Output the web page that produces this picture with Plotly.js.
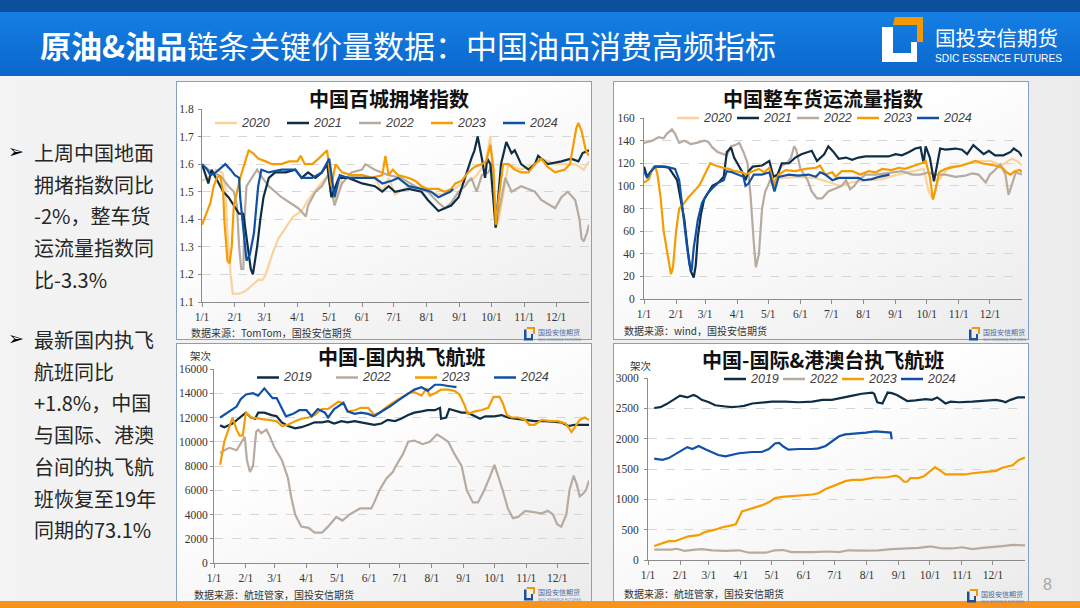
<!DOCTYPE html>
<html><head><meta charset="utf-8">
<script src="https://cdn.plot.ly/plotly-3.0.1.min.js"></script>
<style>
html,body{margin:0;padding:0;}
#slide{position:relative;width:1080px;height:608px;overflow:hidden;background:linear-gradient(90deg,#f3f3f3 0%,#ececec 100%);font-family:"Noto Sans CJK SC","Noto Sans",sans-serif;}
.hdrtop{position:absolute;left:0;top:0;width:1080px;height:12px;background:#0b4f9d;}
.hdr{position:absolute;left:0;top:12px;width:1080px;height:64px;background:linear-gradient(180deg,#1580e4 0%,#0a66cc 100%);}
.htitle{position:absolute;left:40px;top:24px;color:#fff;font-size:31px;line-height:42px;white-space:nowrap;font-weight:400;}
.htitle b{font-weight:700;}
.biglogo{position:absolute;left:878px;top:12px;}
.bul{position:absolute;left:34px;font-size:20px;line-height:31.7px;color:#262626;white-space:nowrap;}
.arrow{position:absolute;left:8px;font-size:19px;line-height:20px;color:#000;font-family:"DejaVu Sans";font-weight:bold;}
.box{position:absolute;box-sizing:border-box;border:1.5px solid #86a0c4;background:linear-gradient(155deg,#ffffff 35%,#ebebeb 100%);}
.plot{position:absolute;}
.slogo{position:absolute;width:64px;height:17px;}
.pnum{position:absolute;left:1043px;top:576px;font-size:16px;color:#a8a8a8;font-family:"Liberation Sans";}
.bottom{position:absolute;left:0;top:601px;width:1080px;height:7px;background:#f7941d;}
</style></head>
<body>
<div id="slide">
  <div class="hdrtop"></div>
  <div class="hdr"></div>
  <div class="htitle"><b>原油&amp;油品</b>链条关键价量数据：中国油品消费高频指标</div>
  <svg class="biglogo" width="200" height="60" viewBox="0 0 200 60">
    <path d="M17 5 L45 5 L45 30 L39 30 L39 13 L15 13 Z" fill="#f39800"/>
    <path d="M4 15 L15 15 L15 41 L33 41 L33 30 L39 30 L39 50 L4 50 Z" fill="#ffffff"/>
    <text x="57" y="34" font-family="Noto Sans CJK SC" font-size="20.5" fill="#fff">国投安信期货</text>
    <text x="57" y="50" font-family="Liberation Sans Narrow, Liberation Sans" font-size="11.5" fill="#fff" textLength="127" lengthAdjust="spacingAndGlyphs">SDIC ESSENCE FUTURES</text>
  </svg>

  <div class="arrow" style="top:141px;">➢</div>
  <div class="bul" style="top:137px;">上周中国地面<br>拥堵指数同比<br>-2%，整车货<br>运流量指数同<br>比-3.3%</div>
  <div class="arrow" style="top:328px;">➢</div>
  <div class="bul" style="top:324px;">最新国内执飞<br>航班同比<br>+1.8%，中国<br>与国际、港澳<br>台间的执飞航<br>班恢复至19年<br>同期的73.1%</div>

  <div class="box" style="left:176px;top:81px;width:416px;height:259px;"></div>
  <div class="box" style="left:613px;top:81px;width:416px;height:259px;"></div>
  <div class="box" style="left:176px;top:343px;width:416px;height:259px;"></div>
  <div class="box" style="left:613px;top:343px;width:416px;height:259px;"></div>

  <div id="c1" class="plot" style="left:176px;top:81px;width:416px;height:259px;"></div>
  <div id="c2" class="plot" style="left:613px;top:81px;width:416px;height:259px;"></div>
  <div id="c3" class="plot" style="left:176px;top:343px;width:416px;height:259px;"></div>
  <div id="c4" class="plot" style="left:613px;top:343px;width:416px;height:259px;"></div>

  <div class="bottom"></div>
  <div class="pnum">8</div>
</div>

<script>
// ---------- shared axis labels ----------
const monthTicks = [0,31,59,90,120,151,181,212,243,273,304,334];
const monthLabels = ['1/1','2/1','3/1','4/1','5/1','6/1','7/1','8/1','9/1','10/1','11/1','12/1'];

// ---------- Chart 1: 中国百城拥堵指数 (day of year) ----------
const cong2020_x = [0,6,13,19,22,24,27,29,35,41,47,53,57,60,66,72,79,86,94,100,110,119,122,125,132,151,163,170,176,182,195,213,226,235,245,257,267,272,277,280,289,301,314,320,333,342,352,360,365];
const cong2020_y = [1.54,1.55,1.58,1.57,1.52,1.35,1.2,1.13,1.13,1.14,1.16,1.18,1.18,1.2,1.27,1.33,1.37,1.41,1.43,1.47,1.52,1.56,1.5,1.46,1.55,1.56,1.55,1.5,1.55,1.49,1.52,1.5,1.49,1.5,1.53,1.55,1.6,1.7,1.37,1.4,1.6,1.58,1.6,1.62,1.6,1.6,1.6,1.58,1.61];
const cong2021_x = [0,6,9,13,16,20,25,30,35,39,42,46,48,52,55,58,63,69,79,88,94,100,107,113,118,122,129,138,151,163,170,176,182,195,207,213,218,223,229,235,242,248,251,254,257,260,264,267,269,272,277,282,287,292,295,301,308,314,317,326,339,348,355,359,365];
const cong2021_y = [1.6,1.53,1.58,1.55,1.53,1.5,1.48,1.45,1.42,1.42,1.33,1.22,1.2,1.3,1.4,1.48,1.55,1.57,1.57,1.58,1.55,1.57,1.55,1.57,1.6,1.48,1.55,1.55,1.53,1.52,1.5,1.52,1.5,1.51,1.5,1.47,1.45,1.43,1.44,1.45,1.48,1.55,1.59,1.62,1.65,1.7,1.62,1.55,1.62,1.6,1.37,1.6,1.68,1.64,1.65,1.6,1.58,1.6,1.63,1.6,1.61,1.62,1.61,1.64,1.65];
const cong2022_x = [0,9,16,19,25,30,33,35,37,39,40,42,47,52,57,63,69,75,83,91,98,100,107,113,119,125,132,141,151,154,163,176,188,201,213,223,229,235,242,248,254,259,264,270,274,277,286,292,301,308,314,320,333,339,345,352,356,358,360,363,365];
const cong2022_y = [1.6,1.57,1.56,1.55,1.52,1.5,1.45,1.3,1.22,1.22,1.4,1.52,1.55,1.58,1.55,1.52,1.5,1.48,1.46,1.44,1.41,1.45,1.5,1.52,1.56,1.45,1.53,1.57,1.58,1.6,1.58,1.56,1.55,1.52,1.5,1.46,1.44,1.46,1.5,1.52,1.55,1.5,1.56,1.57,1.6,1.37,1.55,1.5,1.52,1.51,1.5,1.47,1.44,1.48,1.5,1.47,1.4,1.33,1.32,1.35,1.38];
const cong2023_x = [0,5,8,11,14,17,20,21,24,26,28,30,33,36,40,44,48,53,60,66,75,82,90,93,97,104,110,118,122,126,132,141,151,160,170,173,176,180,185,195,201,207,213,223,229,235,239,245,251,257,264,268,272,275,277,279,284,289,295,301,308,314,320,326,333,342,347,350,353,355,358,362,365];
const cong2023_y = [1.38,1.43,1.46,1.52,1.55,1.56,1.5,1.4,1.25,1.24,1.3,1.45,1.5,1.55,1.6,1.65,1.64,1.62,1.61,1.6,1.6,1.61,1.61,1.63,1.6,1.6,1.62,1.65,1.52,1.6,1.57,1.56,1.56,1.55,1.56,1.63,1.56,1.58,1.56,1.55,1.54,1.52,1.51,1.51,1.5,1.51,1.53,1.54,1.57,1.59,1.6,1.61,1.67,1.58,1.38,1.45,1.6,1.6,1.58,1.57,1.57,1.6,1.62,1.59,1.57,1.58,1.6,1.67,1.73,1.75,1.72,1.65,1.63];
const cong2024_x = [0,5,8,13,22,27,31,35,36,39,42,45,49,53,56,63,75,88,94,104,113,120,125,130,138,151,163,170,179,185,195,207,216,223,229,234,237];
const cong2024_y = [1.6,1.58,1.56,1.57,1.6,1.58,1.56,1.55,1.48,1.35,1.25,1.27,1.35,1.52,1.58,1.57,1.58,1.58,1.55,1.55,1.57,1.62,1.48,1.56,1.55,1.55,1.55,1.53,1.54,1.55,1.52,1.51,1.5,1.48,1.49,1.5,1.51];

// ---------- Chart 2: 中国整车货运流量指数 ----------
const truck2020_x = [120,135,150,165,180,188,200,215,230,245,260,270,275,279,284,295,305,320,335,345,355,360,365];
const truck2020_y = [105,107,108,107,103,100,103,105,106,110,113,115,95,88,105,117,118,122,122,118,124,122,118];
const truck2021_x = [0,3,6,10,18,24,27,32,35,39,42,45,48,50,52,55,58,63,66,72,77,80,84,87,91,95,98,101,105,114,121,125,129,133,140,146,152,159,162,167,174,178,183,188,195,201,207,214,227,236,243,249,256,262,267,270,272,276,280,283,286,291,301,307,312,318,323,328,333,339,347,354,357,362,365];
const truck2021_y = [117,108,112,117,117,116,112,105,90,70,45,25,19,30,55,75,88,95,100,103,108,130,134,125,118,112,105,113,117,118,122,108,110,120,120,125,128,130,131,122,128,135,130,124,125,123,125,126,126,126,128,127,130,133,134,120,135,125,104,120,133,132,133,132,128,136,132,128,131,127,127,130,133,130,126];
const truck2022_x = [0,8,14,19,22,27,30,34,39,45,51,58,62,66,71,76,80,84,88,92,96,100,103,106,108,111,114,117,122,125,129,133,138,142,145,147,151,158,162,167,172,178,185,191,195,199,203,207,214,224,233,243,249,259,267,275,280,291,301,310,317,323,330,334,339,344,349,352,355,359,365];
const truck2022_y = [138,140,143,142,146,150,146,138,140,137,138,140,139,134,130,128,127,135,136,138,130,120,90,50,28,40,80,95,105,100,110,118,120,125,135,132,115,105,95,89,89,95,98,100,105,97,100,105,110,110,111,112,113,110,110,112,110,110,108,109,111,110,103,110,114,119,110,92,100,112,110];
const truck2023_x = [0,5,8,11,13,16,19,24,26,28,31,34,39,43,48,53,56,61,64,69,76,82,88,95,98,105,111,116,121,126,130,137,146,156,166,170,175,182,185,191,201,209,217,224,230,239,246,252,259,268,272,276,279,281,285,291,301,307,314,320,326,333,339,346,350,354,358,363,365];
const truck2023_y = [103,106,115,117,110,90,60,30,22,28,60,80,85,90,95,100,105,115,120,118,116,115,113,112,110,113,115,112,116,100,110,114,113,115,116,118,110,112,108,113,113,110,113,112,115,114,116,115,117,120,122,108,88,95,112,115,117,118,120,122,120,119,118,116,112,110,113,114,112];
const truck2024_x = [0,3,6,11,21,26,30,34,37,41,44,46,48,52,56,61,66,72,77,80,85,91,96,98,101,106,114,121,126,130,140,149,159,166,170,175,182,188,201,207,212,220,227,232,237];
const truck2024_y = [113,107,112,117,117,116,115,105,80,50,30,25,45,70,85,93,98,103,105,113,112,110,108,100,102,110,110,112,95,108,110,109,110,108,112,110,105,107,107,107,105,106,108,109,110];

// ---------- Chart 3: 中国-国内执飞航班 (架次) ----------
const dom2019_x = [6,10,18,25,31,36,40,43,49,56,61,66,72,79,85,92,98,105,111,117,124,130,137,143,150,156,163,169,176,182,189,195,202,208,215,220,221,226,229,234,241,247,254,259,264,273,280,286,293,303,312,322,332,338,345,351,365];
const dom2019_y = [11350,11200,11500,12000,12400,12000,11900,12400,12400,12200,12100,11600,11300,11100,11200,11400,11600,11600,11700,11500,11700,11600,11700,11600,11500,11400,11500,11800,11700,11900,12200,12400,12500,12600,12600,12800,11900,12000,12700,12600,12400,12400,12100,11900,12100,12100,12200,12000,11900,11800,11700,11700,11600,11600,11300,11400,11400];
const dom2022_x = [6,10,15,22,27,30,32,35,38,41,43,46,51,54,59,66,72,75,79,85,92,98,105,111,119,125,132,142,153,156,161,168,174,177,184,189,195,203,210,217,221,228,234,241,246,252,257,263,268,273,281,286,291,296,303,311,319,325,330,334,338,343,346,350,353,356,359,362,365];
const dom2022_y = [9060,9300,9500,9300,10000,10400,8500,7500,8000,10800,11000,10700,11000,10500,9500,8500,7000,5500,4000,3000,2900,2500,2500,3000,3800,3500,4000,4500,4500,5000,6000,7000,7500,8000,9000,10000,10100,9800,10000,10600,10400,10000,9000,8000,6000,5000,5000,6000,7000,8100,6000,4500,3700,3800,4300,4200,4100,4300,4000,3200,3000,4000,6000,7200,6500,5500,5700,6000,6800];
const dom2023_x = [6,10,14,18,22,25,28,31,36,46,56,61,66,72,79,85,92,98,105,111,121,126,130,137,143,150,156,163,170,179,189,195,202,207,210,215,221,228,234,239,244,247,254,260,267,272,278,281,285,290,296,303,307,312,319,328,335,342,345,348,351,356,361,365];
const dom2023_y = [8100,10000,11000,12000,11000,10500,10500,12400,12000,11900,11800,11700,11300,11400,11700,11900,12000,12200,12700,12700,13300,13200,12500,12600,12800,12800,12200,12500,13000,13500,14000,14100,13800,14400,13800,14000,14300,14300,14200,13900,13000,12300,12500,12600,12800,13700,13700,13200,12200,12000,12000,11800,11400,11400,11800,11700,11700,11500,11200,10800,11200,11800,12000,11800];
const dom2024_x = [6,15,22,26,31,38,43,49,53,57,61,66,70,77,83,90,95,101,108,111,117,126,130,137,143,150,156,165,171,179,189,195,202,208,215,221,228,236];
const dom2024_y = [12000,12500,12900,13500,13900,14000,13800,14400,14000,13600,13600,12700,12100,12300,12600,12600,12100,12700,12400,12000,12700,13200,12500,12300,12400,12300,12100,12600,12900,13400,14000,14300,14500,14200,14700,14700,14600,14500];

// ---------- Chart 4: 中国-国际&港澳台执飞航班 (架次) ----------
const intl2019_x = [6,12,18,25,31,38,44,47,52,59,65,75,81,88,93,101,110,120,133,146,159,169,178,188,198,207,217,219,222,227,232,236,241,246,251,259,269,275,280,285,288,293,301,314,327,337,343,346,351,358,365];
const intl2019_y = [2505,2520,2570,2650,2710,2680,2720,2700,2640,2600,2550,2530,2520,2530,2540,2580,2600,2610,2610,2600,2610,2640,2640,2680,2710,2740,2760,2740,2600,2580,2760,2750,2720,2670,2620,2630,2650,2640,2680,2620,2580,2610,2600,2610,2630,2640,2620,2600,2640,2680,2680];
const intl2022_x = [6,23,28,35,46,52,62,75,88,98,114,123,131,139,159,175,185,194,210,223,236,249,262,272,275,285,294,304,314,324,333,343,353,365];
const intl2022_y = [170,170,185,150,170,180,160,150,160,120,120,160,165,130,130,140,130,160,155,160,180,190,200,220,220,190,190,210,180,200,210,230,250,240];
const intl2023_x = [6,14,20,26,33,39,49,55,65,72,81,85,91,101,110,117,123,130,139,149,159,165,172,181,191,198,207,220,230,240,243,248,251,254,262,267,272,278,285,288,301,307,314,327,337,343,353,359,365];
const intl2023_y = [230,280,310,310,350,390,410,460,500,540,570,590,800,850,900,950,1020,1040,1050,1070,1080,1100,1170,1230,1300,1320,1320,1360,1360,1390,1370,1290,1290,1350,1350,1380,1450,1530,1450,1410,1410,1410,1430,1450,1470,1520,1560,1650,1690];
const intl2024_x = [6,14,20,27,33,38,43,49,56,62,68,75,81,88,101,110,117,123,127,131,136,146,159,165,172,178,185,191,201,211,220,230,235,236];
const intl2024_y = [1670,1650,1680,1750,1820,1860,1830,1880,1820,1780,1730,1710,1730,1760,1780,1780,1830,1920,1930,1870,1820,1830,1830,1840,1880,1950,2040,2070,2080,2100,2120,2110,2100,1990];

// ---------- styling ----------
const COL = {y2019:'#0e2e46', y2020:'#fad39a', y2021:'#0e2e46', y2022:'#b7aba0', y2023:'#f59c00', y2024:'#1050a6'};
const W = 416, H = 259;
const SERIF = '"Liberation Serif", serif';
const CJK = '"Noto Sans CJK SC", sans-serif';

function build(id, cfg){
  const m = cfg.margin;
  const pw = W - m.l - m.r, ph = H - m.t - m.b;
  const px = v => (v - m.l) / pw;
  const py = v => 1 - (v - m.t) / ph;
  const traces = cfg.series.map(s => ({
    type:'scatter', mode:'lines', x:s.x, y:s.y, name:s.name,
    line:{color:s.color, width:2.2}, hoverinfo:'skip', showlegend:false
  }));
  const shapes = [], ann = [];
  cfg.legendOrder.forEach((s, i) => {
    const x0 = cfg.leg.x + i*cfg.leg.step;
    shapes.push({type:'line', xref:'paper', yref:'paper', x0:px(x0), x1:px(x0+22),
      y0:py(cfg.leg.y), y1:py(cfg.leg.y), line:{color:s.color, width:2.5}});
    ann.push({xref:'paper', yref:'paper', x:px(x0+25), y:py(cfg.leg.y), xanchor:'left', yanchor:'middle', borderpad:0,
      text:'<i>'+s.name+'</i>', showarrow:false, font:{family:'"Liberation Sans", Arial', size:12.5, color:'#404040'}});
  });
  ann.push({xref:'paper', yref:'paper', x:px(cfg.title.x), y:py(cfg.title.y), xanchor:'center', yanchor:'middle', borderpad:0,
    text:cfg.title.text, showarrow:false, font:{family:CJK, size:20, color:'#111', weight:700}});
  ann.push({xref:'paper', yref:'paper', x:px(cfg.foot.x), y:py(cfg.foot.y), xanchor:'left', yanchor:'middle', borderpad:0,
    text:cfg.foot.text, showarrow:false, font:{family:CJK, size:10, color:'#333'}});
  if (cfg.unit) ann.push({xref:'paper', yref:'paper', x:px(cfg.unit.x), y:py(cfg.unit.y), xanchor:'left', yanchor:'middle', borderpad:0,
    text:'架次', showarrow:false, font:{family:CJK, size:10.5, color:'#333'}});
  const layout = {
    width:W, height:H, margin:{l:m.l, r:m.r, t:m.t, b:m.b, pad:0},
    paper_bgcolor:'rgba(0,0,0,0)', plot_bgcolor:'rgba(0,0,0,0)', showlegend:false,
    xaxis:{range:[0,365], tickmode:'array', tickvals:monthTicks, ticktext:monthLabels,
      showgrid:false, zeroline:false, showline:true, linecolor:'#8c8c8c', linewidth:1,
      ticks:'outside', ticklen:4, tickcolor:'#8c8c8c', tickfont:{family:SERIF, size:11.5, color:'#333'}},
    yaxis:{range:cfg.yrange, dtick:cfg.dtick, tick0:cfg.yrange[0], tickformat:cfg.tickformat,
      showgrid:true, gridcolor:'#d6d6d6', griddash:'dash', gridwidth:1, zeroline:false,
      showline:true, linecolor:'#8c8c8c', linewidth:1, ticks:'outside', ticklen:3, tickcolor:'#8c8c8c',
      tickfont:{family:SERIF, size:11.5, color:'#333'}, ticklabelstandoff:cfg.standoff},
    shapes:shapes, annotations:ann
  };
  Plotly.newPlot(id, traces, layout, {staticPlot:true, displayModeBar:false});
}

// Chart 1
const s1 = {
  y2020:{name:'2020', x:cong2020_x, y:cong2020_y, color:COL.y2020},
  y2021:{name:'2021', x:cong2021_x, y:cong2021_y, color:COL.y2021},
  y2022:{name:'2022', x:cong2022_x, y:cong2022_y, color:COL.y2022},
  y2023:{name:'2023', x:cong2023_x, y:cong2023_y, color:COL.y2023},
  y2024:{name:'2024', x:cong2024_x, y:cong2024_y, color:COL.y2024}
};
build('c1', {
  margin:{l:26, r:3, t:28, b:38},
  series:[s1.y2020, s1.y2022, s1.y2021, s1.y2023, s1.y2024],
  legendOrder:[s1.y2020, s1.y2021, s1.y2022, s1.y2023, s1.y2024],
  leg:{x:39, step:72, y:42},
  yrange:[1.1, 1.8], dtick:0.1, tickformat:'.1f', standoff:2,
  title:{text:'中国百城拥堵指数', x:213, y:17},
  foot:{text:'数据来源：TomTom，国投安信期货', x:14, y:251.5}
});

// Chart 2
const s2 = {
  y2020:{name:'2020', x:truck2020_x, y:truck2020_y, color:COL.y2020},
  y2021:{name:'2021', x:truck2021_x, y:truck2021_y, color:COL.y2021},
  y2022:{name:'2022', x:truck2022_x, y:truck2022_y, color:COL.y2022},
  y2023:{name:'2023', x:truck2023_x, y:truck2023_y, color:COL.y2023},
  y2024:{name:'2024', x:truck2024_x, y:truck2024_y, color:COL.y2024}
};
build('c2', {
  margin:{l:31, r:7, t:37, b:41},
  series:[s2.y2020, s2.y2022, s2.y2021, s2.y2023, s2.y2024],
  legendOrder:[s2.y2020, s2.y2021, s2.y2022, s2.y2023, s2.y2024],
  leg:{x:64, step:60, y:37},
  yrange:[0, 160], dtick:20, tickformat:'d', standoff:3,
  title:{text:'中国整车货运流量指数', x:210, y:17},
  foot:{text:'数据来源：wind，国投安信期货', x:10, y:249.5}
});

// Chart 3
const s3 = {
  y2019:{name:'2019', x:dom2019_x, y:dom2019_y, color:COL.y2019},
  y2022:{name:'2022', x:dom2022_x, y:dom2022_y, color:COL.y2022},
  y2023:{name:'2023', x:dom2023_x, y:dom2023_y, color:COL.y2023},
  y2024:{name:'2024', x:dom2024_x, y:dom2024_y, color:COL.y2024}
};
build('c3', {
  margin:{l:38, r:3, t:26, b:39},
  series:[s3.y2022, s3.y2019, s3.y2023, s3.y2024],
  legendOrder:[s3.y2019, s3.y2022, s3.y2023, s3.y2024],
  leg:{x:81, step:79, y:34.5},
  yrange:[0, 16000], dtick:2000, tickformat:'d', standoff:0,
  title:{text:'中国-国内执飞航班', x:225, y:13.5},
  foot:{text:'数据来源：航班管家，国投安信期货', x:17, y:251},
  unit:{x:13, y:12}
});

// Chart 4
const s4 = {
  y2019:{name:'2019', x:intl2019_x, y:intl2019_y, color:COL.y2019},
  y2022:{name:'2022', x:intl2022_x, y:intl2022_y, color:COL.y2022},
  y2023:{name:'2023', x:intl2023_x, y:intl2023_y, color:COL.y2023},
  y2024:{name:'2024', x:intl2024_x, y:intl2024_y, color:COL.y2024}
};
build('c4', {
  margin:{l:35, r:4, t:35, b:42},
  series:[s4.y2022, s4.y2019, s4.y2023, s4.y2024],
  legendOrder:[s4.y2019, s4.y2022, s4.y2023, s4.y2024],
  leg:{x:111, step:59, y:36},
  yrange:[0, 3000], dtick:500, tickformat:'d', standoff:3,
  title:{text:'中国-国际&港澳台执飞航班', x:210, y:17},
  foot:{text:'数据来源：航班管家，国投安信期货', x:10, y:250},
  unit:{x:16, y:22}
});
</script>

<!-- small logos in each panel -->
<script>
(function(){
  const pos = [[523,324],[968,324],[523,584],[966,586]];
  const slide = document.getElementById('slide');
  pos.forEach(p => {
    const d = document.createElement('div');
    d.className = 'slogo';
    d.style.left = p[0]+'px'; d.style.top = p[1]+'px';
    d.innerHTML = '<svg width="64" height="17" viewBox="0 0 64 17">'+
      '<path d="M4 1 L12 1 L12 8 L10 8 L10 3 L3.5 3 Z" fill="#f39800"/>'+
      '<path d="M1 3.5 L3.5 3.5 L3.5 12 L8 12 L8 8 L10 8 L10 14.5 L1 14.5 Z" fill="#1d4f9a"/>'+
      '<text x="15" y="9" font-family="Noto Sans CJK SC" font-size="7" fill="#4a6aa0">国投安信期货</text>'+
      '<text x="15" y="14.5" font-family="Liberation Sans Narrow, Liberation Sans" font-size="3.6" fill="#6b84b0" textLength="43" lengthAdjust="spacingAndGlyphs">SDIC ESSENCE FUTURES</text>'+
      '</svg>';
    slide.appendChild(d);
  });
})();
</script>
</body></html>
